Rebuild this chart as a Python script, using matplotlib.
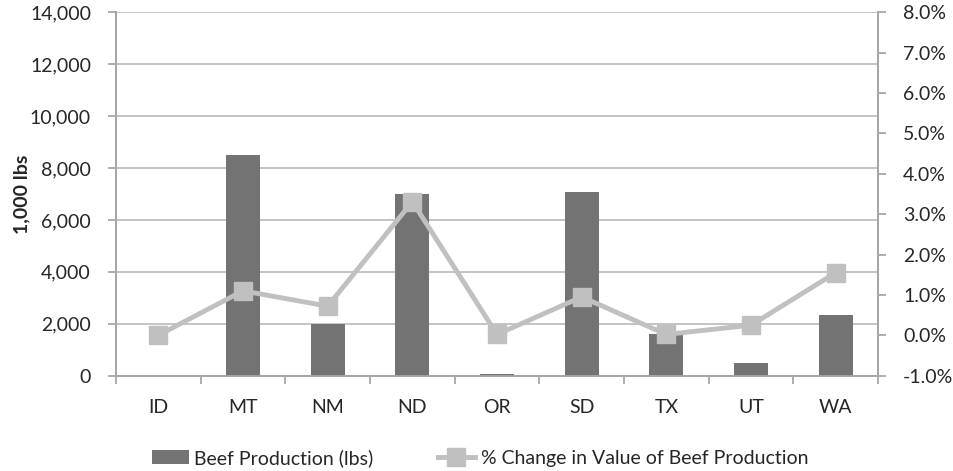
import numpy as np
import matplotlib.pyplot as plt
from matplotlib.ticker import FuncFormatter, MultipleLocator

plt.rcParams['font.family'] = ['Lato', 'DejaVu Sans']

states = ['ID', 'MT', 'NM', 'ND', 'OR', 'SD', 'TX', 'UT', 'WA']
beef_production = [0, 8500, 2000, 7000, 50, 7080, 1600, 500, 2330]      # 1,000 lbs
pct_change_value = [0.0, 1.10, 0.72, 3.31, 0.02, 0.95, 0.02, 0.25, 1.55]  # %

bar_color = '#737373'
line_color = '#c0c0c0'
axis_color = '#a6a6a6'
text_color = '#262626'
fs = 14

fig = plt.figure(figsize=(9.54, 4.71), dpi=100)
ax = fig.add_axes([0.1216, 0.2025, 0.7988, 0.7714])
x = np.arange(len(states))

ax.bar(x, beef_production, width=0.4, color=bar_color, zorder=3,
       label='Beef Production (lbs)')
ax.set_xlim(-0.5, len(states) - 0.5)
ax.set_ylim(0, 14000)
ax.yaxis.set_major_locator(MultipleLocator(2000))
ax.yaxis.set_major_formatter(FuncFormatter(lambda v, p: f'{v:,.0f}'))
ax.grid(axis='y', color='#bfbfbf', linewidth=1.3, zorder=0)
ax.set_ylabel('1,000 lbs', fontweight='bold', fontsize=fs, color=text_color, labelpad=0)

# category labels centred, tick marks on the category boundaries
ax.set_xticks(x)
ax.set_xticklabels(states)
ax.set_xticks(np.arange(-0.5, len(states)), minor=True)
ax.tick_params(axis='x', which='major', length=0, pad=17)
ax.tick_params(axis='x', which='minor', length=6, color=axis_color, width=1.3)
ax.tick_params(axis='y', length=6, color=axis_color, width=1.3, pad=12)
ax.tick_params(labelsize=fs, labelcolor=text_color)

ax2 = ax.twinx()
ax2.plot(x, pct_change_value, color=line_color, linewidth=3.5, marker='s',
         markersize=12.5, markerfacecolor=line_color, markeredgecolor=line_color,
         zorder=4, label='% Change in Value of Beef Production')
ax2.set_ylim(-1, 8)
ax2.yaxis.set_major_locator(MultipleLocator(1))
ax2.yaxis.set_major_formatter(FuncFormatter(lambda v, p: f'{v:.1f}%'))
ax2.tick_params(axis='y', length=6, color=axis_color, width=1.3, pad=12,
                labelsize=fs, labelcolor=text_color)

for a in (ax, ax2):
    a.spines['top'].set_visible(False)
    for s in ('left', 'right', 'bottom'):
        a.spines[s].set_color(axis_color)
        a.spines[s].set_linewidth(1.3)
ax.set_zorder(ax2.get_zorder() - 1)
ax.patch.set_visible(True)
ax2.patch.set_visible(False)

h1, l1 = ax.get_legend_handles_labels()
h2, l2 = ax2.get_legend_handles_labels()
fig.legend(h1 + h2, l1 + l2, loc='center', bbox_to_anchor=(0.503, 0.028),
           ncol=2, frameon=False, fontsize=fs, labelcolor=text_color,
           handlelength=1.9, handletextpad=0.3, columnspacing=3.3)

fig.savefig('out.png', dpi=100)
